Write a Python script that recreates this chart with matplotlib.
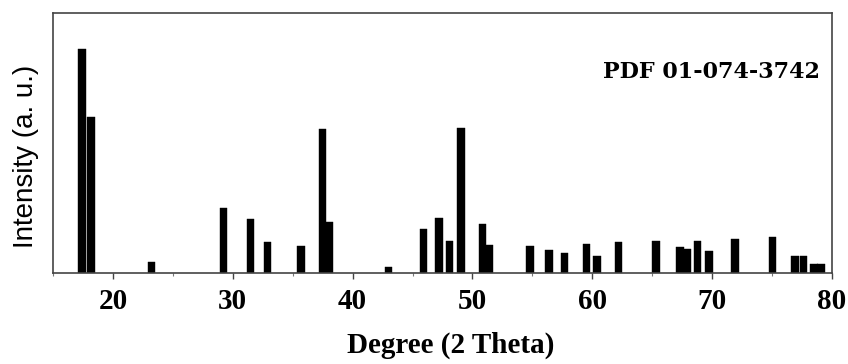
import numpy as np
import matplotlib
matplotlib.use('Agg')
import matplotlib.pyplot as plt
from matplotlib.ticker import MultipleLocator

# Reference pattern PDF 01-074-3742 (stick positions in 2 theta, relative intensity)
two_theta = [17.42, 18.17, 23.2, 29.25, 31.47, 32.9, 35.7, 37.5, 38.05,
             43.0, 45.9, 47.2, 48.1, 49.05, 50.86, 51.4, 54.8, 56.4, 57.7,
             59.5, 60.4, 62.2, 65.3, 67.3, 67.9, 68.8, 69.75, 71.9, 75.05,
             76.9, 77.6, 78.5, 79.1]
intensity = [86.2, 59.9, 4.1, 25.1, 20.8, 12.0, 10.4, 55.3, 19.7,
             2.4, 16.9, 21.0, 12.3, 55.6, 18.8, 10.8, 10.5, 8.8, 7.8,
             11.2, 6.7, 12.0, 12.4, 10.1, 9.1, 12.4, 8.5, 13.1, 14.0,
             6.5, 6.5, 3.5, 3.5]
xticks = [20, 30, 40, 50, 60, 70, 80]
card_label = 'PDF 01-074-3742'

fig = plt.figure(figsize=(8.48, 3.64), dpi=100)
ax = fig.add_axes([53 / 848, 91 / 364, 779 / 848, 260 / 364])

ax.bar(two_theta, intensity, width=0.62, color='black', edgecolor='black',
       linewidth=0.3)

ax.set_xlim(15, 80)
ax.set_ylim(0, 100)
ax.set_xticks(xticks)
ax.xaxis.set_minor_locator(MultipleLocator(5))
ax.set_yticks([])
ax.tick_params(axis='x', which='major', direction='out', length=4, width=1,
               color='#444444', pad=7)
ax.tick_params(axis='x', which='minor', direction='out', length=2, width=0.8,
               color='#777777')
for lbl in ax.get_xticklabels():
    lbl.set_fontfamily('Liberation Serif')
    lbl.set_fontweight('bold')
    lbl.set_fontsize(21)

for s in ax.spines.values():
    s.set_color('#444444')
    s.set_linewidth(1.2)

ax.set_xlabel('Degree (2 Theta)', fontfamily='Liberation Serif',
              fontweight='bold', fontsize=21)
ax.xaxis.set_label_coords(0.51, -0.225)
ax.set_ylabel('Intensity (a. u.)', fontfamily='Liberation Sans',
              fontsize=20)
ax.yaxis.set_label_coords(-0.018, 0.45)

ax.text(0.985, 0.773, card_label, transform=ax.transAxes, ha='right',
        va='center', fontfamily='DejaVu Serif', fontweight='bold',
        fontsize=16)

fig.savefig('out.png', dpi=100)
